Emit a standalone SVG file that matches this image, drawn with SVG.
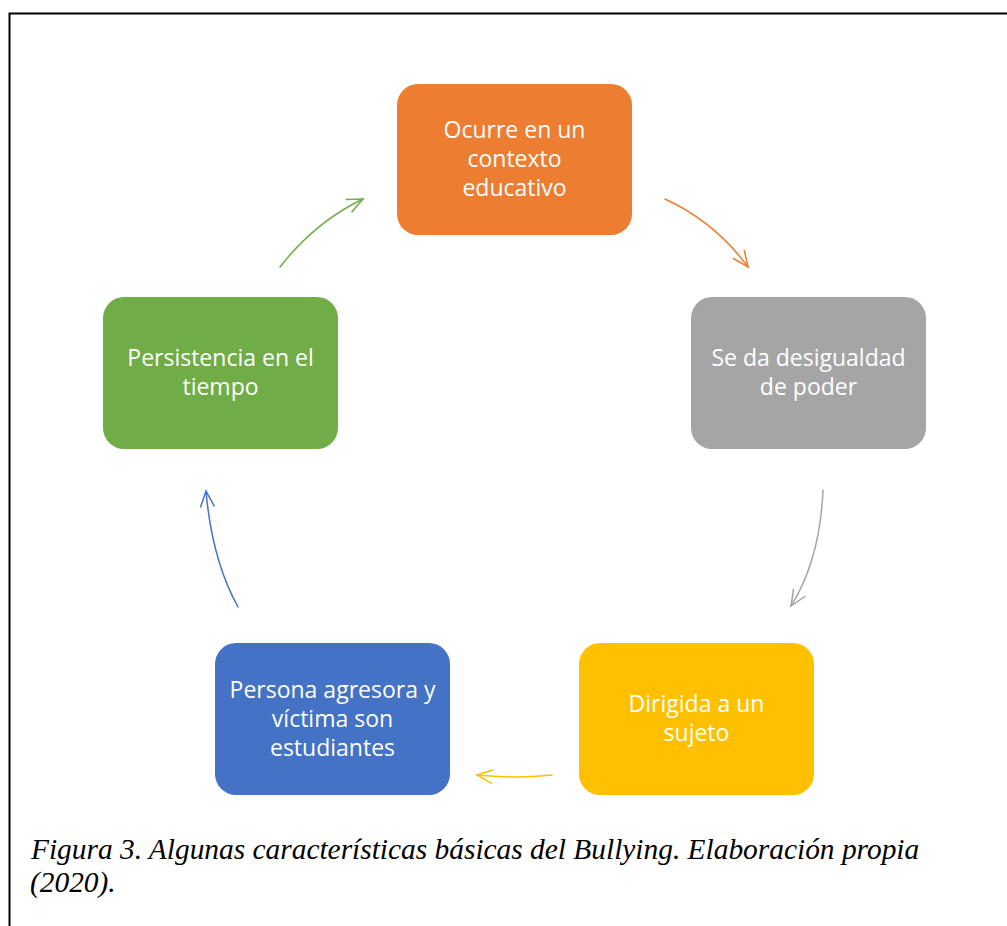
<svg xmlns="http://www.w3.org/2000/svg" width="1007" height="926" viewBox="0 0 1007 926">
<defs>
<style>
.box{stroke:none}
.lbl{font-family:"Open Sans","Liberation Sans",sans-serif;font-size:23px;fill:#ffffff;text-anchor:middle}
.cap{font-family:"Liberation Serif",serif;font-style:italic;font-size:29.4px;fill:#000000}
.arr{fill:none;stroke-width:1.5;stroke-linecap:round;stroke-linejoin:round}
</style>
<marker id="mo" viewBox="0 0 20 20" refX="18" refY="10" markerWidth="20" markerHeight="20" markerUnits="userSpaceOnUse" orient="auto"><path d="M2,3 L18,10 L2,17" fill="none" stroke="#ED7D31" stroke-width="1.5"/></marker>
<marker id="mg" viewBox="0 0 20 20" refX="18" refY="10" markerWidth="20" markerHeight="20" markerUnits="userSpaceOnUse" orient="auto"><path d="M2,3 L18,10 L2,17" fill="none" stroke="#A5A5A5" stroke-width="1.5"/></marker>
<marker id="my" viewBox="0 0 20 20" refX="18" refY="10" markerWidth="20" markerHeight="20" markerUnits="userSpaceOnUse" orient="auto"><path d="M2,3 L18,10 L2,17" fill="none" stroke="#FFC000" stroke-width="1.5"/></marker>
<marker id="mb" viewBox="0 0 20 20" refX="18" refY="10" markerWidth="20" markerHeight="20" markerUnits="userSpaceOnUse" orient="auto"><path d="M2,3 L18,10 L2,17" fill="none" stroke="#4472C4" stroke-width="1.5"/></marker>
<marker id="mgr" viewBox="0 0 20 20" refX="18" refY="10" markerWidth="20" markerHeight="20" markerUnits="userSpaceOnUse" orient="auto"><path d="M2,3 L18,10 L2,17" fill="none" stroke="#70AD47" stroke-width="1.5"/></marker>
</defs>
<rect x="0" y="0" width="1007" height="926" fill="#ffffff"/>
<rect x="9.5" y="13.5" width="1020" height="940" fill="none" stroke="#000000" stroke-width="2"/>
<g id="connectors">
<path class="arr" d="M665,199 Q715,222 748,267" stroke="#ED7D31" marker-end="url(#mo)"/>
<path class="arr" d="M823,490 Q820,560 791,606" stroke="#A5A5A5" marker-end="url(#mg)"/>
<path class="arr" d="M552,775 Q515,779 477,775" stroke="#FFC000" marker-end="url(#my)"/>
<path class="arr" d="M238,607 Q212,560 206,491" stroke="#4472C4" marker-end="url(#mb)"/>
<path class="arr" d="M280,267 Q315,222 363,199" stroke="#70AD47" marker-end="url(#mgr)"/>
</g>
<g id="node-contexto">
<rect class="box" x="397" y="84" width="235" height="151" rx="21" fill="#ED7D31"/>
<text class="lbl" x="514.5" y="138">Ocurre en un</text>
<text class="lbl" x="514.5" y="167">contexto</text>
<text class="lbl" x="514.5" y="196">educativo</text>
</g>
<g id="node-desigualdad">
<rect class="box" x="691" y="297" width="235" height="152" rx="21" fill="#A5A5A5"/>
<text class="lbl" x="808.5" y="366">Se da desigualdad</text>
<text class="lbl" x="808.5" y="395">de poder</text>
</g>
<g id="node-sujeto">
<rect class="box" x="579" y="643" width="235" height="152" rx="21" fill="#FFC000"/>
<text class="lbl" x="696.5" y="712">Dirigida a un</text>
<text class="lbl" x="696.5" y="741">sujeto</text>
</g>
<g id="node-estudiantes">
<rect class="box" x="215" y="643" width="235" height="152" rx="21" fill="#4472C4"/>
<text class="lbl" x="332.5" y="698">Persona agresora y</text>
<text class="lbl" x="332.5" y="727">víctima son</text>
<text class="lbl" x="332.5" y="756">estudiantes</text>
</g>
<g id="node-persistencia">
<rect class="box" x="103" y="297" width="235" height="152" rx="21" fill="#70AD47"/>
<text class="lbl" x="220.5" y="366">Persistencia en el</text>
<text class="lbl" x="220.5" y="395">tiempo</text>
</g>
<g id="caption">
<text class="cap" x="31" y="859">Figura 3. Algunas características básicas del Bullying. Elaboración propia</text>
<text class="cap" x="30" y="892">(2020).</text>
</g>
</svg>
